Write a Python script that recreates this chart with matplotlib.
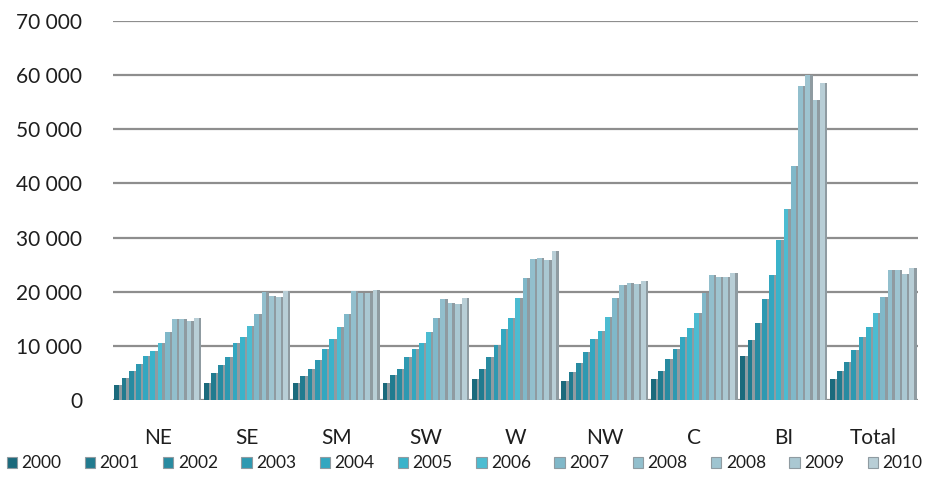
import matplotlib
matplotlib.use("Agg")
import matplotlib.pyplot as plt
import numpy as np
from matplotlib.patches import Patch

plt.rcParams['font.family'] = ['Lato', 'DejaVu Sans']

regions = ["NE", "SE", "SM", "SW", "W", "NW", "C", "BI", "Total"]
years = ["2000", "2001", "2002", "2003", "2004", "2005", "2006",
         "2007", "2008", "2008", "2009", "2010"]

NE = [2700, 4000, 5300, 6600, 8100, 9100, 10500, 12600, 14900, 14900, 14600, 15100]
SE = [3200, 4900, 6400, 8000, 10600, 11700, 13700, 15900, 19900, 19300, 19100, 20100]
SM = [3100, 4400, 5700, 7400, 9400, 11300, 13500, 15900, 20100, 19800, 19800, 20300]
SW = [3200, 4600, 5700, 7900, 9400, 10500, 12600, 15100, 18700, 18000, 17800, 18900]
W = [3800, 5700, 7900, 10200, 13200, 15100, 18800, 22500, 26000, 26200, 25800, 27600]
NW = [3600, 5100, 6900, 8800, 11200, 12800, 15300, 18800, 21300, 21600, 21400, 22000]
C = [3800, 5400, 7500, 9400, 11600, 13300, 16000, 19700, 23000, 22800, 22700, 23400]
BI = [8100, 11000, 14300, 18600, 23100, 29600, 35200, 43200, 58000, 60000, 55400, 58500]
Total = [3800, 5400, 7100, 9200, 11700, 13500, 16100, 19100, 24100, 24100, 23300, 24400]

table = np.array([NE, SE, SM, SW, W, NW, C, BI, Total])

colors = ["#1b6a7c", "#217b8f", "#288ba1", "#2e99b1", "#33a7c0", "#3ab3ca",
          "#4cbcd1", "#80b8c9", "#92bfcd", "#9ec4d0", "#aac8d2", "#b8ced6"]
shade = "#8f9ba1"

fig = plt.figure(figsize=(9.29, 4.93), dpi=100)
ax = fig.add_axes([0.1216, 0.1886, 0.8664, 0.7688])

n = len(years)
group_w = 0.97
step = group_w / n
x = np.arange(len(regions))
for i in range(n):
    pos = x - group_w / 2 + step * (i + 0.5)
    # darker side of each bar
    ax.bar(pos, table[:, i], width=step, color=shade, zorder=2, linewidth=0)
    ax.bar(pos - step * 0.17, table[:, i], width=step * 0.66, color=colors[i],
           zorder=3, linewidth=0)

ax.set_ylim(0, 70000)
ax.set_xlim(-0.5, len(regions) - 0.5)
ax.set_yticks(np.arange(0, 70001, 10000))
ax.set_yticklabels([f"{v:,}".replace(",", " ") for v in range(0, 70001, 10000)])
ax.set_xticks(x)
ax.set_xticklabels(regions)
ax.yaxis.grid(True, color="#8e8e8e", linewidth=1.6, zorder=1)
ax.set_axisbelow(True)
for s in ax.spines.values():
    s.set_visible(False)
ax.tick_params(axis="both", length=0, labelsize=15, colors="#1e1e1e")
ax.tick_params(axis="y", pad=22)
ax.tick_params(axis="x", pad=20)

handles = [Patch(facecolor=colors[i], edgecolor=shade, linewidth=0.8) for i in range(n)]
fig.legend(handles, years, loc="center", bbox_to_anchor=(0.5, 0.06), ncol=n,
           frameon=False, fontsize=12.5, handlelength=0.6, handleheight=0.6,
           handletextpad=0.25, columnspacing=1.35, labelcolor="#1e1e1e",
           borderpad=0.1)

fig.savefig("out.png", dpi=100)
